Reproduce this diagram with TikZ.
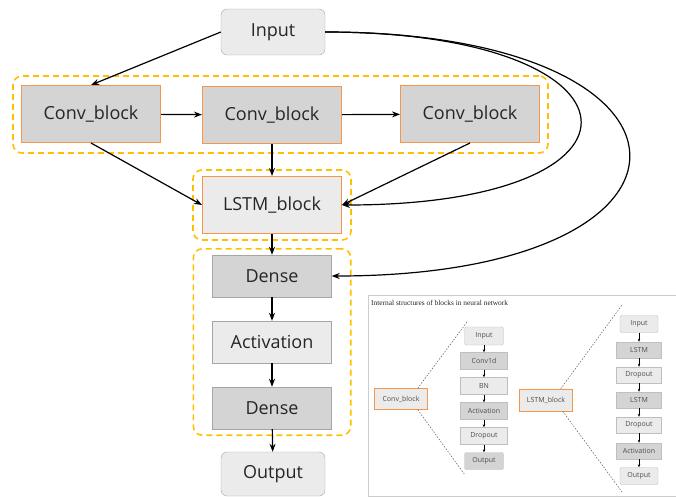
\documentclass[tikz,border=0pt]{standalone}
\usepackage{fontspec}
\setmainfont{Liberation Serif}
\setsansfont{Open Sans}
\usetikzlibrary{arrows.meta,fit}

\definecolor{boxdark}{HTML}{D4D4D4}
\definecolor{boxlight}{HTML}{EBEBEB}
\definecolor{boxline}{HTML}{A6A6A6}
\definecolor{orangeline}{HTML}{F79646}
\definecolor{grpline}{HTML}{FFC000}

\begin{document}
\begin{tikzpicture}[x=1pt, y=-1pt,
  every node/.style = {font=\sffamily\fontsize{18}{21}\selectfont, text=black!85, inner sep=0pt},
  term/.style = {draw=boxline, fill=boxlight, rounded corners=6pt, minimum width=104pt, minimum height=46pt},
  block/.style = {draw=orangeline, line width=1pt, minimum width=139pt, minimum height=57pt},
  layer/.style = {draw=boxline, minimum width=119pt, minimum height=42pt},
  grp/.style = {draw=grpline, line width=1.6pt, dash pattern=on 6pt off 4pt, rounded corners=9pt},
  arr/.style = {-{Stealth[length=8pt,width=6pt]}, line width=1.2pt},
  small/.style = {font=\sffamily\fontsize{7}{8}\selectfont, text=black!70, draw=black!25},
  sarr/.style = {-{Stealth[length=3pt,width=2.5pt]}, line width=0.7pt},
  cut/.style = {black!65, line width=0.5pt, dash pattern=on 1.5pt off 1.5pt}]

\useasboundingbox (0,0) rectangle (676,496);

% main network
\node[term] (input) at (273, 32) {Input};

\node[block, fill=boxdark] (conv1) at (91, 114) {Conv\_block};
\node[block, fill=boxdark] (conv2) at (272, 115) {Conv\_block};
\node[block, fill=boxdark] (conv3) at (470, 114) {Conv\_block};

\node[block, fill=boxlight] (lstm) at (272, 205) {LSTM\_block};

\node[layer, fill=boxdark] (dense1) at (272, 276) {Dense};
\node[layer, fill=boxlight] (act) at (272, 342) {Activation};
\node[layer, fill=boxdark] (dense2) at (272, 408) {Dense};

\node[term, minimum height=44pt] (output) at (273, 474) {Output};

% dashed groups
\node[grp, fit=(conv1)(conv2)(conv3), inner xsep=8pt, inner ysep=9pt] (convgrp) {};
\node[grp, fit=(lstm), inner xsep=9pt, inner ysep=6pt] (lstmgrp) {};
\node[grp, fit=(dense1)(dense2), inner xsep=19pt, inner ysep=6pt] (densegrp) {};

\draw[arr] (input.west) -- (conv1.north);
\draw[arr] (conv1) -- (conv2);
\draw[arr] (conv2) -- (conv3);

\draw[arr] (conv1.south) -- (lstm.west);
\draw[arr] (conv2) -- (lstm);
\draw[arr] (conv3.south) -- (lstm.east);

\draw[arr] (input.east) .. controls +(329,0) and +(329,0) .. (lstm.east);
\draw[arr] (input.east) .. controls +(401,0) and +(401,0) .. (dense1.east);

\draw[arr] (lstm) -- (dense1);
\draw[arr] (dense1) -- (act);
\draw[arr] (act) -- (dense2);
\draw[arr] (dense2) -- (output);

% inset with the inner structure of the blocks
\begin{scope}
\node[draw=black!20, fill=white, minimum width=308pt, minimum height=201pt, anchor=north west] (inset) at (368, 295) {};
\node[anchor=north west, font=\rmfamily\fontsize{7.4}{9}\selectfont, text=black!85] (title) at (371, 300) {Internal structures of blocks in neural network};

\node[small, draw=orangeline, fill=boxlight, minimum width=53pt, minimum height=21pt] (cb) at (401, 399) {Conv\_block};
\node[small, fill=boxlight, rounded corners=2pt, minimum width=39pt, minimum height=18pt] (ci) at (484, 336) {Input};
\node[small, fill=boxdark, minimum width=47pt, minimum height=17pt] (cc) at (484, 361) {Conv1d};
\node[small, fill=boxlight, minimum width=47pt, minimum height=17pt] (cn) at (484, 386) {BN};
\node[small, fill=boxdark, minimum width=47pt, minimum height=17pt] (ca) at (484, 411) {Activation};
\node[small, fill=boxlight, minimum width=47pt, minimum height=17pt] (cd) at (484, 436) {Dropout};
\node[small, fill=boxdark, rounded corners=2pt, minimum width=39pt, minimum height=17pt] (co) at (484, 461) {Output};

\draw[sarr] (ci) -- (cc);
\draw[sarr] (cc) -- (cn);
\draw[sarr] (cn) -- (ca);
\draw[sarr] (ca) -- (cd);
\draw[sarr] (cd) -- (co);

\coordinate (ct) at (467, 322);
\coordinate (cbt) at (465, 475);
\draw[cut] ([xshift=-10pt]cb.north east) -- (ct);
\draw[cut] ([xshift=-10pt]cb.south east) -- (cbt);

\node[small, draw=orangeline, fill=boxlight, minimum width=53pt, minimum height=22pt] (lb) at (546, 400) {LSTM\_block};
\node[small, fill=boxlight, rounded corners=2pt, minimum width=38pt, minimum height=17pt] (li) at (639, 324) {Input};
\node[small, fill=boxdark, minimum width=45pt, minimum height=16pt] (l1) at (639, 350) {LSTM};
\node[small, fill=boxlight, minimum width=45pt, minimum height=16pt] (ld1) at (639, 375) {Dropout};
\node[small, fill=boxdark, minimum width=45pt, minimum height=16pt] (l2) at (639, 400) {LSTM};
\node[small, fill=boxlight, minimum width=45pt, minimum height=16pt] (ld2) at (639, 425) {Dropout};
\node[small, fill=boxdark, minimum width=45pt, minimum height=16pt] (la) at (639, 451) {Activation};
\node[small, fill=boxlight, rounded corners=2pt, minimum width=38pt, minimum height=17pt] (lo) at (639, 476) {Output};

\draw[sarr] (li) -- (l1);
\draw[sarr] (l1) -- (ld1);
\draw[sarr] (ld1) -- (l2);
\draw[sarr] (l2) -- (ld2);
\draw[sarr] (ld2) -- (la);
\draw[sarr] (la) -- (lo);

\coordinate (lt) at (622, 305);
\coordinate (lbt) at (622, 492);
\draw[cut] ([xshift=-12pt]lb.north east) -- (lt);
\draw[cut] ([xshift=-10pt]lb.south east) -- (lbt);
\end{scope}

\end{tikzpicture}
\end{document}
